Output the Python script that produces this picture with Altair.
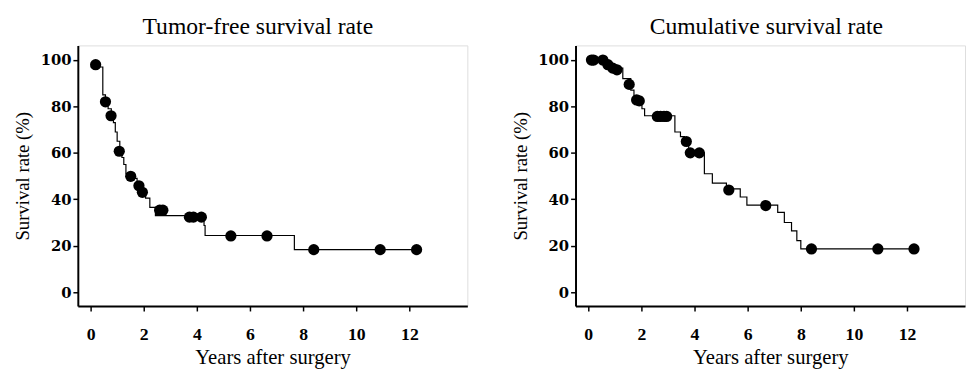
import altair as alt
import pandas as pd

# ---- Tumor-free survival (left panel) ----
tf_step_t = [0, 0.46, 0.56, 0.66, 0.78, 0.86, 0.93, 1.0, 1.1, 1.18, 1.25, 1.33, 1.6, 1.75,
             1.92, 2.07, 2.23, 2.44, 4.27, 4.31, 7.67, 12.27]
tf_step_s = [97, 85, 82, 79, 76, 73, 69, 65, 61, 58, 55, 51, 49, 46,
             43, 40.5, 36.5, 33, 28.7, 24.4, 18.3, 18.3]
tf_dot_t = [0.19, 0.56, 0.77, 1.08, 1.51, 1.82, 1.95, 2.6, 2.72, 3.72, 3.87, 4.17,
            5.28, 6.64, 8.4, 10.9, 12.27]
tf_dot_s = [98, 82, 76, 60.7, 49.9, 45.8, 43, 35.3, 35.3, 32.3, 32.3, 32.3,
            24.2, 24.2, 18.3, 18.3, 18.3]

# ---- Cumulative survival (right panel) ----
cs_step_t = [0, 0.65, 0.85, 1.3, 1.6, 1.72, 2.02, 2.12, 3.26, 3.47, 3.62, 3.78, 4.37, 4.67,
             5.2, 5.72, 5.97, 7.13, 7.38, 7.65, 7.85, 8.0, 12.26]
cs_step_s = [100, 98, 96.5, 92, 87, 84, 79, 76, 69, 67, 64, 60, 51, 47,
             44.5, 41, 37.5, 34.4, 30, 26.4, 22.2, 18.6, 18.6]
cs_dot_t = [0.12, 0.2, 0.55, 0.74, 0.92, 1.08, 1.54, 1.82, 1.92, 2.6, 2.72, 2.85, 2.95,
            3.69, 3.84, 4.18, 5.29, 6.68, 8.4, 10.9, 12.26]
cs_dot_s = [100, 100, 100, 98, 96.5, 95.8, 89.5, 82.8, 82.4, 75.7, 75.7, 75.7, 75.7,
            64.9, 60, 60, 44, 37.3, 18.6, 18.6, 18.6]

x_ticks = [0, 2, 4, 6, 8, 10, 12]
y_ticks = [0, 20, 40, 60, 80, 100]

SERIF = "Liberation Serif"
W, H = 396, 265


def panel(step_t, step_s, dot_t, dot_s, title, dx):
    line_df = pd.DataFrame({"t": step_t, "s": step_s})
    dot_df = pd.DataFrame({"t": dot_t, "s": dot_s})
    x = alt.X(
        "t:Q",
        scale=alt.Scale(domain=[-0.48, 14.18], nice=False, zero=False),
        axis=alt.Axis(
            values=x_ticks, title="Years after surgery", grid=False,
            domainColor="black", domainWidth=2, tickColor="black", tickWidth=1.5,
            tickSize=5, labelFont=SERIF, labelFontWeight="bold", labelFontSize=18,
            labelColor="black", labelPadding=15, titleFont=SERIF, titleFontSize=21,
            titleFontWeight="normal", titleColor="black", titlePadding=3,
        ),
    )
    y = alt.Y(
        "s:Q",
        scale=alt.Scale(domain=[-6, 106.3], nice=False, zero=False),
        axis=alt.Axis(
            values=y_ticks, title="Survival rate (%)", grid=False,
            domainColor="black", domainWidth=2, tickColor="black", tickWidth=1.5,
            tickSize=5, labelFont="DejaVu Serif", labelFontWeight="bold", labelFontSize=15,
            labelColor="black", labelPadding=2, titleFont=SERIF, titleFontSize=19,
            titleFontWeight="normal", titleColor="black",
            titleX=-46, titleY=H / 2, titleAlign="center", titleBaseline="bottom",
            titleAngle=270,
        ),
    )
    line = alt.Chart(line_df).mark_line(
        interpolate="step-after", color="black", strokeWidth=1.2
    ).encode(x=x, y=y)
    pts = alt.Chart(dot_df).mark_circle(color="black", opacity=1, size=130).encode(x=x, y=y)
    return alt.layer(line, pts).properties(
        width=W, height=H,
        title=alt.TitleParams(
            title, font=SERIF, fontSize=24, fontWeight="normal", color="black",
            offset=7, dx=dx, anchor="middle",
        ),
    )


left = panel(tf_step_t, tf_step_s, tf_dot_t, tf_dot_s, "Tumor-free survival rate", -15)
right = panel(cs_step_t, cs_step_s, cs_dot_t, cs_dot_s, "Cumulative survival rate", -4)

chart = alt.hconcat(left, right, spacing=43).properties(
    padding={"left": 5, "top": 3, "right": 0, "bottom": 0}
).configure_view(stroke=None).configure(background="white")

chart.save("out.html", embed_options={"renderer": "svg", "actions": False})
